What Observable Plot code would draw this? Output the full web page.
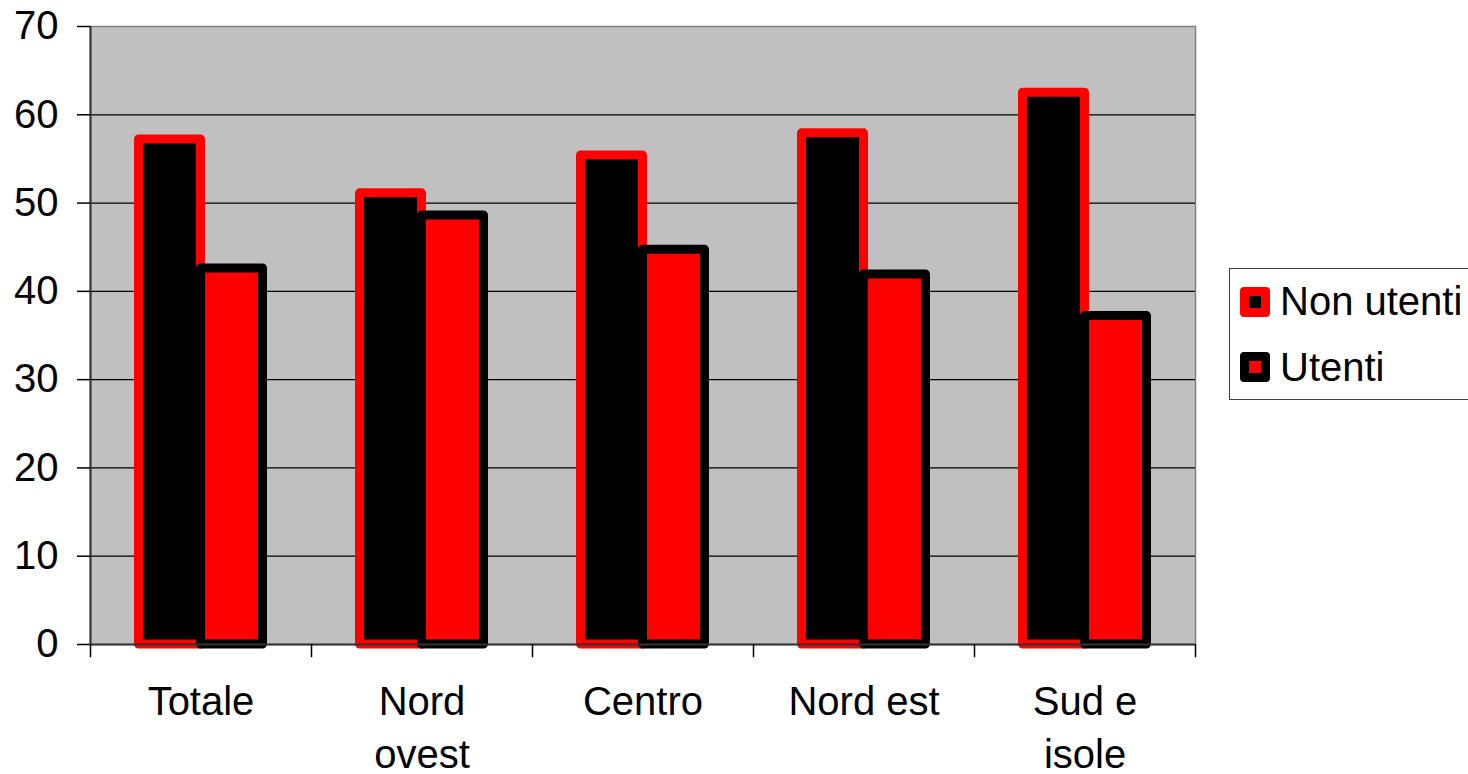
<!DOCTYPE html>
<html><head><meta charset="utf-8">
<script src="https://cdn.jsdelivr.net/npm/d3@7"></script>
<script src="https://cdn.jsdelivr.net/npm/@observablehq/plot@0.6"></script>
<style>
body{margin:0;background:#fff;font-family:"Liberation Sans",Arial,sans-serif;}
#wrap{position:relative;width:1468px;height:774px;overflow:hidden;}
#legend{position:absolute;left:1229px;top:268px;width:260px;height:132px;border:1.5px solid #404040;background:#fff;box-sizing:border-box;}
.item{position:absolute;left:10px;display:flex;align-items:center;font-size:40px;height:31px;color:#000;white-space:nowrap;}
.sw{width:12px;height:12px;border:9.5px solid;border-radius:4px;margin-right:10px;flex:none;}
</style>
</head><body>
<div id="wrap"><div id="chart"></div>
<div id="legend"></div></div>
<script>
const categories = ["Totale", "Nord\novest", "Centro", "Nord est", "Sud e\nisole"];
const seriesNames = ["Non utenti", "Utenti"];
const nonUtenti = [57.2, 51.1, 55.4, 57.9, 62.5];
const utenti = [42.6, 48.6, 44.7, 41.9, 37.2];
const yTicks = [0, 10, 20, 30, 40, 50, 60, 70];

const rows = [];
categories.forEach((c, i) => {
  rows.push({cat: c, series: seriesNames[0], value: nonUtenti[i]});
  rows.push({cat: c, series: seriesNames[1], value: utenti[i]});
});

const W = 1468, H = 774, mL = 90, mR = 273, mT = 26, mB = 130;
const bw = (W - mL - mR) / categories.length;
const barW = 62;
const inset = (bw - barW) / 2;

const chart = Plot.plot({
  width: W, height: H,
  marginLeft: mL, marginRight: mR, marginTop: mT, marginBottom: mB,
  style: {fontFamily: "Liberation Sans, Arial, sans-serif", fontSize: "40px", background: "transparent", color: "#000", overflow: "visible"},
  x: {domain: categories, padding: 0, label: null},
  y: {domain: [0, 70], label: null},
  marks: [
    Plot.frame({fill: "#c0c0c0", stroke: "#808080", strokeWidth: 1.5}),
    Plot.gridY(yTicks.filter(t => t > 0 && t < 70), {stroke: "#000", strokeOpacity: 1, strokeWidth: 1.3}),
    Plot.barY(rows.filter(d => d.series === seriesNames[0]), {
      x: "cat", y: "value", fill: "#000", stroke: "#ff0000", strokeWidth: 9,
      strokeLinejoin: "round", insetLeft: inset, insetRight: inset, dx: -barW / 2
    }),
    Plot.barY(rows.filter(d => d.series === seriesNames[1]), {
      x: "cat", y: "value", fill: "#ff0000", stroke: "#000", strokeWidth: 9,
      strokeLinejoin: "round", insetLeft: inset, insetRight: inset, dx: barW / 2
    }),
    Plot.ruleY([0], {stroke: "#333", strokeWidth: 2}),
    Plot.ruleX([categories[0]], {dx: -bw / 2, y1: 0, y2: 70, stroke: "#333", strokeWidth: 2}),
    Plot.ruleX(categories, {x: d => d, dx: -bw / 2, y1: 0, y2: -1.5, stroke: "#000", strokeWidth: 1.5}),
    Plot.ruleX([categories[categories.length - 1]], {dx: bw / 2, y1: 0, y2: -1.5, stroke: "#000", strokeWidth: 1.5}),
    Plot.axisY({ticks: yTicks, tickSize: 13, tickPadding: 19, fontSize: 40, strokeWidth: 1.5}),
    Plot.axisX({tickSize: 0, tickPadding: 33, fontSize: 40, lineHeight: 1.33})
  ]
});
document.getElementById("chart").appendChild(chart);

const legend = document.getElementById("legend");
const fills = ["#000", "#ff0000"], strokes = ["#ff0000", "#000"];
const tops = [17, 82.5];
seriesNames.forEach((s, i) => {
  const item = document.createElement("div");
  item.className = "item";
  item.style.top = tops[i] + "px";
  const sw = document.createElement("span");
  sw.className = "sw";
  sw.style.background = fills[i];
  sw.style.borderColor = strokes[i];
  item.appendChild(sw);
  item.appendChild(document.createTextNode(s));
  legend.appendChild(item);
});
</script>
</body></html>
